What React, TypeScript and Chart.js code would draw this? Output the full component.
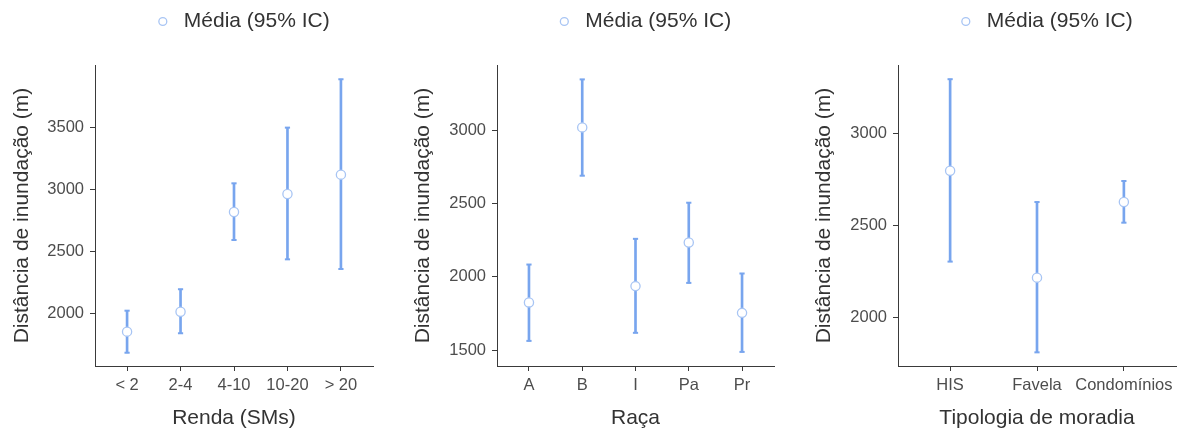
import React, { useEffect, useRef } from 'react';
import { Chart, registerables } from 'chart.js';

Chart.register(...registerables);

const LEGEND_LABEL = 'Média (95% IC)';
const Y_TITLE = 'Distância de inundação (m)';

// Panel 1: Renda
const rendaCategories = ['< 2', '2-4', '4-10', '10-20', '> 20'];
const rendaMeans = [1852, 2013, 2817, 2962, 3118];
const rendaLower = [1682, 1839, 2591, 2435, 2357];
const rendaUpper = [2021, 2194, 3048, 3497, 3887];
const rendaTicks = [2000, 2500, 3000, 3500];
const rendaRange = [1575, 4002];

// Panel 2: Raça
const racaCategories = ['A', 'B', 'I', 'Pa', 'Pr'];
const racaMeans = [1826, 3018, 1937, 2234, 1755];
const racaLower = [1564, 2689, 1619, 1959, 1489];
const racaUpper = [2084, 3345, 2259, 2505, 2023];
const racaTicks = [1500, 2000, 2500, 3000];
const racaRange = [1393, 3443];

// Panel 3: Tipologia de moradia
const moradiaCategories = ['HIS', 'Favela', 'Condomínios'];
const moradiaMeans = [2797, 2217, 2627];
const moradiaLower = [2304, 1812, 2515];
const moradiaUpper = [3293, 2627, 2741];
const moradiaTicks = [2000, 2500, 3000];
const moradiaRange = [1738, 3370];

const LINE_COLOR = '#78A5EE';
const POINT_BORDER = '#A8C5F4';
const AXIS_COLOR = '#3a3a3a';
const TICK_COLOR = '#4D4D4D';
const TEXT_COLOR = '#333333';
const FONT = "'Liberation Sans', Arial, sans-serif";

type PanelProps = {
  categories: string[];
  means: number[];
  lower: number[];
  upper: number[];
  ticks: number[];
  range: number[];
  xTitle: string;
  left: number;
  width: number;
  padLeft: number;
  padRight: number;
  yWidth: number;
};

const HEIGHT = 432;

function Panel(p: PanelProps) {
  const ref = useRef<HTMLCanvasElement | null>(null);
  useEffect(() => {
    if (!ref.current) return;
    const n = p.categories.length;
    const legendShift = {
      id: 'legendShift',
      afterLayout(chart: any) {
        if (chart.legend) {
          chart.legend.left += 7;
          chart.legend.right += 7;
        }
      },
    };
    const chart = new Chart(ref.current, {
      type: 'bar',
      data: {
        datasets: [
          {
            type: 'bar',
            label: '',
            data: p.categories.map((_, i) => ({ x: i, y: [p.lower[i], p.upper[i]] })) as any,
            backgroundColor: LINE_COLOR,
            borderWidth: 0,
            barThickness: 2,
            order: 3,
          },
          {
            type: 'line',
            label: '',
            data: p.categories.map((_, i) => ({ x: i, y: p.upper[i] })),
            showLine: false,
            pointStyle: 'line',
            pointRadius: 2.6,
            pointBorderWidth: 2,
            pointBorderColor: LINE_COLOR,
            borderColor: LINE_COLOR,
            order: 2,
          },
          {
            type: 'line',
            label: '',
            data: p.categories.map((_, i) => ({ x: i, y: p.lower[i] })),
            showLine: false,
            pointStyle: 'line',
            pointRadius: 2.6,
            pointBorderWidth: 2,
            pointBorderColor: LINE_COLOR,
            borderColor: LINE_COLOR,
            order: 2,
          },
          {
            type: 'line',
            label: LEGEND_LABEL,
            data: p.categories.map((_, i) => ({ x: i, y: p.means[i] })),
            showLine: false,
            pointStyle: 'circle',
            pointRadius: 4.6,
            pointBorderWidth: 1.3,
            pointBackgroundColor: '#ffffff',
            pointBorderColor: POINT_BORDER,
            backgroundColor: '#ffffff',
            borderColor: POINT_BORDER,
            order: 0,
          },
        ] as any,
      },
      options: {
        responsive: false,
        animation: false,
        events: [],
        layout: { padding: { left: p.padLeft, right: p.padRight, top: 1, bottom: 1 } },
        plugins: {
          tooltip: { enabled: false },
          legend: {
            display: true,
            position: 'top',
            fullSize: false,
            weight: 3000,
            labels: {
              usePointStyle: true,
              boxWidth: 21,
              boxHeight: 5.6,
              padding: 10,
              color: TEXT_COLOR,
              font: { size: 21, family: FONT },
              filter: (item: any) => item.text === LEGEND_LABEL,
            },
          },
          title: {
            display: true,
            text: '',
            weight: 500,
            position: 'top',
            font: { size: 10, lineHeight: 1 },
            padding: { top: 0, bottom: 13 },
          },
        },
        scales: {
          x: {
            type: 'linear',
            offset: false,
            min: -0.6,
            max: n - 1 + 0.6,
            afterBuildTicks: (scale: any) => {
              scale.ticks = p.categories.map((_, i) => ({ value: i }));
            },
            afterFit: (scale: any) => {
              scale.height = 65;
            },
            ticks: {
              autoSkip: false,
              maxRotation: 0,
              padding: 5,
              color: TICK_COLOR,
              font: { size: 16.5, family: FONT },
              callback: (_v: any, i: number) => p.categories[i],
            },
            grid: {
              display: true,
              offset: false,
              drawOnChartArea: false,
              drawTicks: true,
              tickLength: 5,
              color: AXIS_COLOR,
              lineWidth: 1,
            },
            border: { display: true, color: AXIS_COLOR, width: 1 },
            title: {
              display: true,
              text: p.xTitle,
              color: TEXT_COLOR,
              font: { size: 21, family: FONT },
              padding: { top: 0, bottom: 0 },
            },
          },
          y: {
            type: 'linear',
            min: p.range[0],
            max: p.range[1],
            afterBuildTicks: (scale: any) => {
              scale.ticks = p.ticks.map((v) => ({ value: v }));
            },
            afterFit: (scale: any) => {
              scale.width = p.yWidth;
            },
            ticks: {
              padding: 6,
              color: TICK_COLOR,
              font: { size: 16.5, family: FONT },
              callback: (v: any) => String(v),
            },
            grid: {
              display: true,
              drawOnChartArea: false,
              drawTicks: true,
              tickLength: 5,
              color: AXIS_COLOR,
              lineWidth: 1,
            },
            border: { display: true, color: AXIS_COLOR, width: 1 },
            title: {
              display: true,
              text: Y_TITLE,
              color: TEXT_COLOR,
              font: { size: 21, family: FONT },
              padding: { top: 0, bottom: 0 },
            },
          },
        },
      } as any,
      plugins: [legendShift],
    });
    return () => chart.destroy();
  }, []);
  return (
    <canvas
      ref={ref}
      width={p.width}
      height={HEIGHT}
      style={{ position: 'absolute', left: p.left, top: 0, width: p.width, height: HEIGHT }}
    />
  );
}

export default function App() {
  return (
    <div style={{ position: 'absolute', left: 0, top: 0, width: 1183, height: HEIGHT, background: '#ffffff' }}>
      <Panel
        categories={rendaCategories}
        means={rendaMeans}
        lower={rendaLower}
        upper={rendaUpper}
        ticks={rendaTicks}
        range={rendaRange}
        xTitle="Renda (SMs)"
        left={0}
        width={390}
        padLeft={10}
        padRight={17}
        yWidth={85}
      />
      <Panel
        categories={racaCategories}
        means={racaMeans}
        lower={racaLower}
        upper={racaUpper}
        ticks={racaTicks}
        range={racaRange}
        xTitle="Raça"
        left={390}
        width={400}
        padLeft={21}
        padRight={16}
        yWidth={86}
      />
      <Panel
        categories={moradiaCategories}
        means={moradiaMeans}
        lower={moradiaLower}
        upper={moradiaUpper}
        ticks={moradiaTicks}
        range={moradiaRange}
        xTitle="Tipologia de moradia"
        left={790}
        width={393}
        padLeft={22}
        padRight={7}
        yWidth={86}
      />
    </div>
  );
}
